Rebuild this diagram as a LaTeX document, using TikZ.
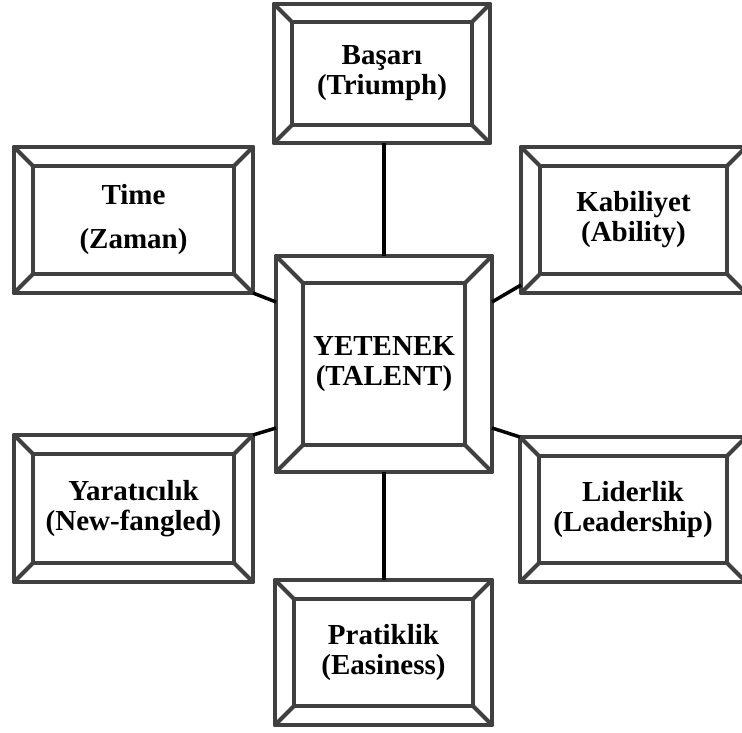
\documentclass[tikz,border=0pt]{standalone}
\usepackage{fontspec}
\setmainfont{Liberation Serif}
\definecolor{bordergray}{HTML}{404040}
\tikzset{
  bev/.style={draw=bordergray, line width=4pt, line join=round, outer sep=0pt, inner sep=0pt,
    align=center, fill=white, font=\fontsize{29}{30}\selectfont\bfseries},
  bevline/.style={draw=bordergray, line width=4pt, line join=round, line cap=round},
  link/.style={draw=black, line width=3.5pt},
}
\newcommand\bevelof[2]{%
  \draw[bevline] ([xshift=#2pt,yshift=-#2pt]#1.north west) rectangle ([xshift=-#2pt,yshift=#2pt]#1.south east);
  \draw[bevline] (#1.north west) -- ([xshift=#2pt,yshift=-#2pt]#1.north west);
  \draw[bevline] (#1.north east) -- ([xshift=-#2pt,yshift=-#2pt]#1.north east);
  \draw[bevline] (#1.south west) -- ([xshift=#2pt,yshift=#2pt]#1.south west);
  \draw[bevline] (#1.south east) -- ([xshift=-#2pt,yshift=#2pt]#1.south east);
}
\begin{document}
\begin{tikzpicture}[x=1pt,y=-1pt]
  \useasboundingbox (0,0) rectangle (742,733);
  \clip (0,0) rectangle (742,733);
  \fill[white] (0,0) rectangle (742,733);

  \node[bev, minimum width=216pt, minimum height=216pt] (tal) at (384,364) {YETENEK\\(TALENT)};
  \node[bev, minimum width=216pt, minimum height=139pt] (bas) at (382,73.5) {Başarı\\(Triumph)};
  \node[bev, minimum width=239pt, minimum height=146pt] (tim) at (133.5,220) {Time\\[14pt](Zaman)};
  \node[bev, minimum width=225pt, minimum height=146pt] (kab) at (633.5,220) {Kabiliyet\\(Ability)};
  \node[bev, minimum width=239pt, minimum height=147pt] (yar) at (133.5,508.5) {Yaratıcılık\\(New-fangled)};
  \node[bev, minimum width=226pt, minimum height=145pt] (lid) at (633,509.5) {Liderlik\\(Leadership)};
  \node[bev, minimum width=217pt, minimum height=145pt] (pra) at (383.5,652.5) {Pratiklik\\(Easiness)};

  \bevelof{tal}{27}
  \bevelof{bas}{18}
  \bevelof{tim}{19}
  \bevelof{kab}{19}
  \bevelof{yar}{19}
  \bevelof{lid}{19}
  \bevelof{pra}{19}

  \draw[link] (bas.south -| tal.north) -- (tal.north);
  \draw[link] (tal.south) -- (pra.north -| tal.south);
  \draw[link] (tim.south east) -- ([yshift=62pt]tal.west);
  \draw[link] ([yshift=8pt]kab.south west) -- ([yshift=62pt]tal.east);
  \draw[link] (yar.north east) -- ([yshift=-64pt]tal.west);
  \draw[link] (lid.north west) -- ([yshift=-64pt]tal.east);
\end{tikzpicture}
\end{document}
